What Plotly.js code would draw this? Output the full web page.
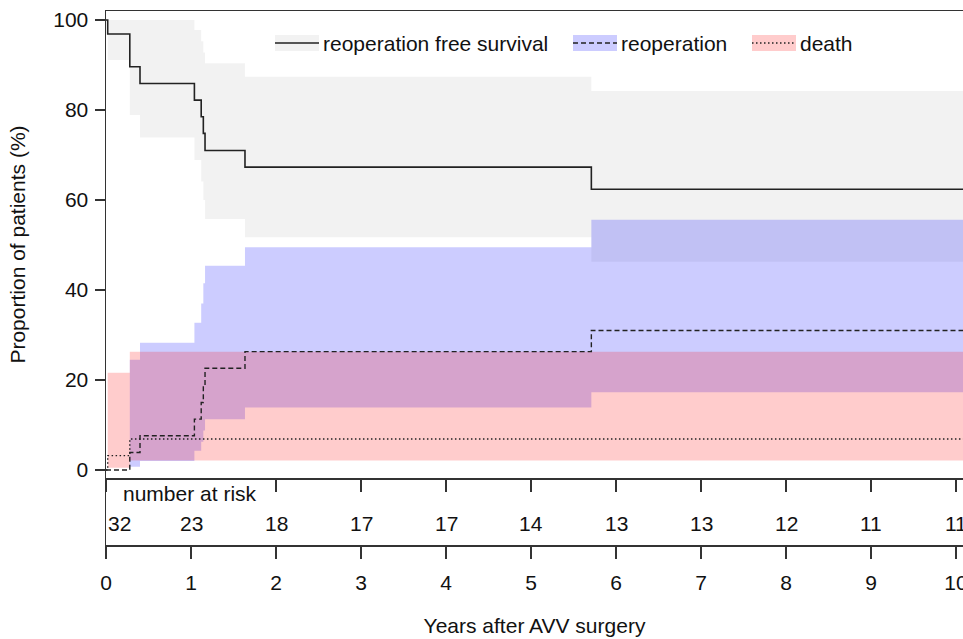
<!DOCTYPE html>
<html>
<head>
<meta charset="utf-8">
<script src="https://cdn.plot.ly/plotly-3.0.1.min.js"></script>
<style>html,body{margin:0;padding:0;background:#fff;}#chart{width:963px;height:639px;}</style>
</head>
<body>
<div id="chart"></div>
<script>
// ---------- data ----------
const followUpEnd = 10.2;

// reoperation free survival (Kaplan-Meier, %)
const survTime  = [0, 0.02, 0.28, 0.40, 1.04, 1.12, 1.145, 1.165, 1.635, 5.71];
const survValue = [100, 96.9, 89.6, 85.9, 82.2, 78.5, 74.8, 71.0, 67.3, 62.4];
// its confidence band
const survBandTime  = [0.02, 0.28, 0.40, 1.04, 1.12, 1.145, 1.165, 1.635, 5.71];
const survBandUpper = [100, 100, 100, 97.8, 95.3, 92.8, 90.4, 87.4, 84.2];
const survBandLower = [91.1, 78.9, 73.9, 68.9, 64.1, 60.0, 55.8, 51.7, 46.3];

// cumulative incidence of reoperation (%)
const reopTime  = [0, 0.28, 0.40, 1.04, 1.12, 1.145, 1.165, 1.635, 5.71];
const reopValue = [0, 3.9, 7.6, 11.3, 15.0, 18.7, 22.6, 26.3, 31.0];
const reopBandTime  = [0.28, 0.40, 1.04, 1.12, 1.145, 1.165, 1.635, 5.71];
const reopBandUpper = [24.5, 28.3, 32.7, 37.0, 41.5, 45.4, 49.5, 55.6];
const reopBandLower = [0.7, 2.0, 4.3, 6.3, 8.8, 11.3, 13.9, 17.3];

// cumulative incidence of death (%)
const deathTime  = [0, 0.02, 0.28];
const deathValue = [0, 3.2, 6.9];
const deathBandTime  = [0.02, 0.28];
const deathBandUpper = [21.6, 26.3];
const deathBandLower = [0.5, 2.1];

// number at risk
const riskTime  = [0, 1, 2, 3, 4, 5, 6, 7, 8, 9, 10];
const riskCount = [32, 23, 18, 17, 17, 14, 13, 13, 12, 11, 11];

const yTicks = [0, 20, 40, 60, 80, 100];
const xTicks = [0, 1, 2, 3, 4, 5, 6, 7, 8, 9, 10];

const legendLabels = ['reoperation free survival', 'reoperation', 'death'];

// ---------- helpers ----------
function extend(t, v) {
  return { x: t.concat([followUpEnd]), y: v.concat([v[v.length - 1]]) };
}
function band(t, up, lo, color) {
  const L = extend(t, lo), U = extend(t, up);
  return [
    { x: L.x, y: L.y, type: 'scatter', mode: 'lines', line: { width: 0, shape: 'hv' },
      hoverinfo: 'skip', showlegend: false, xaxis: 'x', yaxis: 'y' },
    { x: U.x, y: U.y, type: 'scatter', mode: 'lines', line: { width: 0, shape: 'hv' },
      fill: 'tonexty', fillcolor: color, hoverinfo: 'skip', showlegend: false, xaxis: 'x', yaxis: 'y' }
  ];
}
function curve(t, v, dash, width) {
  const C = extend(t, v);
  return { x: C.x, y: C.y, type: 'scatter', mode: 'lines',
    line: { color: '#222', width: width, dash: dash, shape: 'hv' },
    hoverinfo: 'skip', showlegend: false, xaxis: 'x', yaxis: 'y' };
}

const GRAY = 'rgba(0,0,0,0.05)';
const BLUE = 'rgba(0,0,255,0.2)';
const PINK = 'rgba(255,0,0,0.2)';
const DASH = '5px,3px';
const DOT = '1.5px,2.5px';

const traces = []
  .concat(band(survBandTime, survBandUpper, survBandLower, GRAY))
  .concat(band(reopBandTime, reopBandUpper, reopBandLower, BLUE))
  .concat(band(deathBandTime, deathBandUpper, deathBandLower, PINK))
  .concat([
    curve(survTime, survValue, 'solid', 1.6),
    curve(reopTime, reopValue, DASH, 1.4),
    curve(deathTime, deathValue, DOT, 1.4),
    // invisible trace so the risk panel subplot exists
    { x: [0], y: [0], type: 'scatter', mode: 'markers', marker: { opacity: 0 },
      hoverinfo: 'skip', showlegend: false, xaxis: 'x2', yaxis: 'y2' }
  ]);

// ---------- layout geometry ----------
const W = 963, H = 639;
const M = { l: 106, r: 0, t: 11, b: 94 };
const plotH = H - M.t - M.b;            // 534
const riskH = 67;
const splitFrac = riskH / plotH;
const plotW = W - M.l - M.r;
const px = (xp) => (xp - M.l) / plotW;  // pixel -> paper
const py = (yp) => (H - M.b - yp) / plotH;

const FONT = 'Liberation Sans, Arial, Helvetica, sans-serif';
const AX = '#333';

// legend (built manually)
const legendItems = [
  { x0: 275, fill: GRAY, dash: 'solid', width: 1.6, text: legendLabels[0] },
  { x0: 573, fill: BLUE, dash: DASH, width: 1.4, text: legendLabels[1] },
  { x0: 752, fill: PINK, dash: DOT, width: 1.4, text: legendLabels[2] }
];
const shapes = [];
const annotations = [];
legendItems.forEach(it => {
  shapes.push({ type: 'rect', xref: 'paper', yref: 'paper',
    x0: px(it.x0), x1: px(it.x0 + 44), y0: py(51), y1: py(35),
    fillcolor: it.fill, line: { width: 0 }, layer: 'above' });
  shapes.push({ type: 'line', xref: 'paper', yref: 'paper',
    x0: px(it.x0), x1: px(it.x0 + 44), y0: py(43), y1: py(43),
    line: { color: '#222', width: it.width, dash: it.dash }, layer: 'above' });
  annotations.push({ xref: 'paper', yref: 'paper', x: px(it.x0 + 46), y: py(43),
    xanchor: 'left', yanchor: 'middle', text: it.text, showarrow: false,
    font: { family: FONT, size: 21, color: '#111' } });
});

annotations.push({ xref: 'paper', yref: 'paper', x: px(121), y: py(493),
  xanchor: 'left', yanchor: 'middle', text: 'number at risk', showarrow: false,
  font: { family: FONT, size: 21, color: '#111' } });

riskTime.forEach((t, i) => {
  annotations.push({ xref: 'x2', yref: 'y2', x: t, y: 0.32,
    xanchor: i === 0 ? 'left' : 'center', yanchor: 'middle',
    text: String(riskCount[i]), showarrow: false,
    font: { family: FONT, size: 21, color: '#111' } });
});

const layout = {
  width: W, height: H,
  margin: M,
  paper_bgcolor: '#fff', plot_bgcolor: 'rgba(0,0,0,0)',
  font: { family: FONT, size: 21, color: '#111' },
  showlegend: false,
  xaxis: {
    anchor: 'y', domain: [0, 1], range: [0, plotW / 85],
    showline: true, linecolor: AX, linewidth: 1.5, mirror: true,
    ticks: 'outside', ticklen: 12, tickwidth: 1.5, tickcolor: AX,
    tickvals: xTicks.filter(v => v !== 1), showticklabels: false,
    showgrid: false, zeroline: false
  },
  yaxis: {
    anchor: 'x', domain: [splitFrac, 1], range: [-8 / 4.5, 102],
    showline: true, linecolor: AX, linewidth: 1.5,
    ticks: 'outside', ticklen: 10, tickwidth: 1.5, tickcolor: AX,
    tickvals: yTicks, ticktext: yTicks.map(String),
    tickfont: { family: FONT, size: 21, color: '#111' },
    ticklabelstandoff: 2,
    showgrid: false, zeroline: false,
    title: { text: 'Proportion of patients (%)', font: { family: FONT, size: 21, color: '#111' }, standoff: 22 }
  },
  xaxis2: {
    anchor: 'y2', matches: 'x', domain: [0, 1],
    showline: true, linecolor: AX, linewidth: 1.5,
    ticks: 'outside', ticklen: 12, tickwidth: 1.5, tickcolor: AX,
    tickvals: xTicks, ticktext: xTicks.map(String),
    tickfont: { family: FONT, size: 21, color: '#111' },
    ticklabelstandoff: 6, ticklabeloverflow: 'allow',
    showgrid: false, zeroline: false,
    title: { text: 'Years after AVV surgery', font: { family: FONT, size: 21, color: '#111' }, standoff: 25 }
  },
  yaxis2: {
    anchor: 'x2', domain: [0, splitFrac], range: [0, 1],
    showline: true, linecolor: AX, linewidth: 1.5,
    ticks: '', showticklabels: false, showgrid: false, zeroline: false
  },
  shapes: shapes,
  annotations: annotations
};

Plotly.newPlot('chart', traces, layout, { staticPlot: true, displayModeBar: false });
</script>
</body>
</html>
